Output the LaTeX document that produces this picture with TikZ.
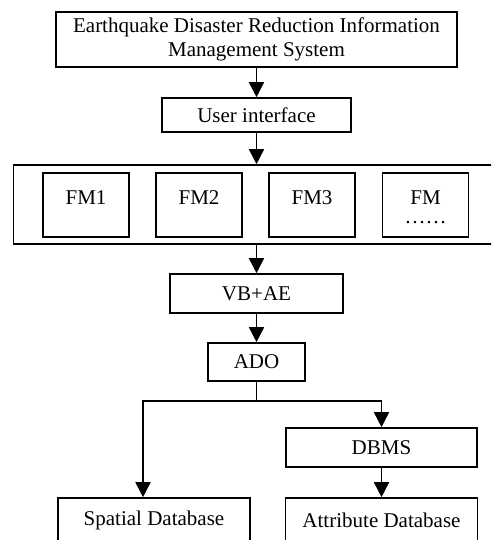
\documentclass[tikz,border=0pt]{standalone}
\usepackage{fontspec}
\setmainfont{Liberation Serif}
\usetikzlibrary{shapes,arrows.meta}
\tikzstyle{block} = [rectangle, draw, line width=1.6pt, align=center,
    inner sep=0pt, font=\fontsize{21}{24.5}\selectfont]
\tikzstyle{fmbox} = [block, minimum width=86pt, minimum height=64pt,
    text height=13.5pt, text depth=15.5pt]
\tikzstyle{line} = [draw, line width=1.6pt, -{Triangle[width=15pt,length=15pt]}]

\begin{document}
\begin{tikzpicture}[x=1pt, y=-1pt, node distance=75.5pt]
    \useasboundingbox (0,0) rectangle (491,540);
    \clip (0,0) rectangle (491,540);
    % Place nodes
    \node [block, minimum width=401pt, minimum height=55pt] (system) at (256.5,39.5) {Earthquake Disaster Reduction Information\\ Management System};
    \node [block, below of=system, minimum width=189pt, minimum height=34pt] (ui) {User interface};
    \node [block, below of=ui, node distance=89.5pt, minimum width=486pt, minimum height=79pt] (modules) {};
    \node [fmbox] (fm1) at (86,205) {FM1};
    \node [fmbox, right of=fm1, node distance=113pt] (fm2) {FM2};
    \node [fmbox, right of=fm2, node distance=113pt] (fm3) {FM3};
    \node [fmbox, right of=fm3, node distance=113.5pt, text height=36pt, text depth=0pt] (fm4) {FM\\[-5.5pt]……};
    \node [block, below of=modules, node distance=89pt, minimum width=173pt, minimum height=39pt] (vbae) {VB+AE};
    \node [block, below of=vbae, node distance=68.5pt, minimum width=97pt, minimum height=38pt] (ado) {ADO};
    \node [block, minimum width=191pt, minimum height=39pt] (dbms) at (381.5,447.5) {DBMS};
    \node [block, minimum width=192pt, minimum height=44pt] (spatial) at (154,520) {Spatial Database};
    \node [block, below of=dbms, node distance=72.5pt, minimum width=192pt, minimum height=44pt] (attribute) {Attribute Database};
    \coordinate (split) at (ado |- 0,401);

    % Draw edges
    \path [line] (system) -- (ui);
    \path [line] (ui) -- (modules);
    \path [line] (modules) -- (vbae);
    \path [line] (vbae) -- (ado);
    \draw [line width=1.6pt] (ado) -- (split);
    \path [line] (split) -| ([xshift=-11pt]spatial.north);
    \path [line] (split) -| (dbms);
    \path [line] (dbms) -- (attribute);
\end{tikzpicture}
\end{document}
